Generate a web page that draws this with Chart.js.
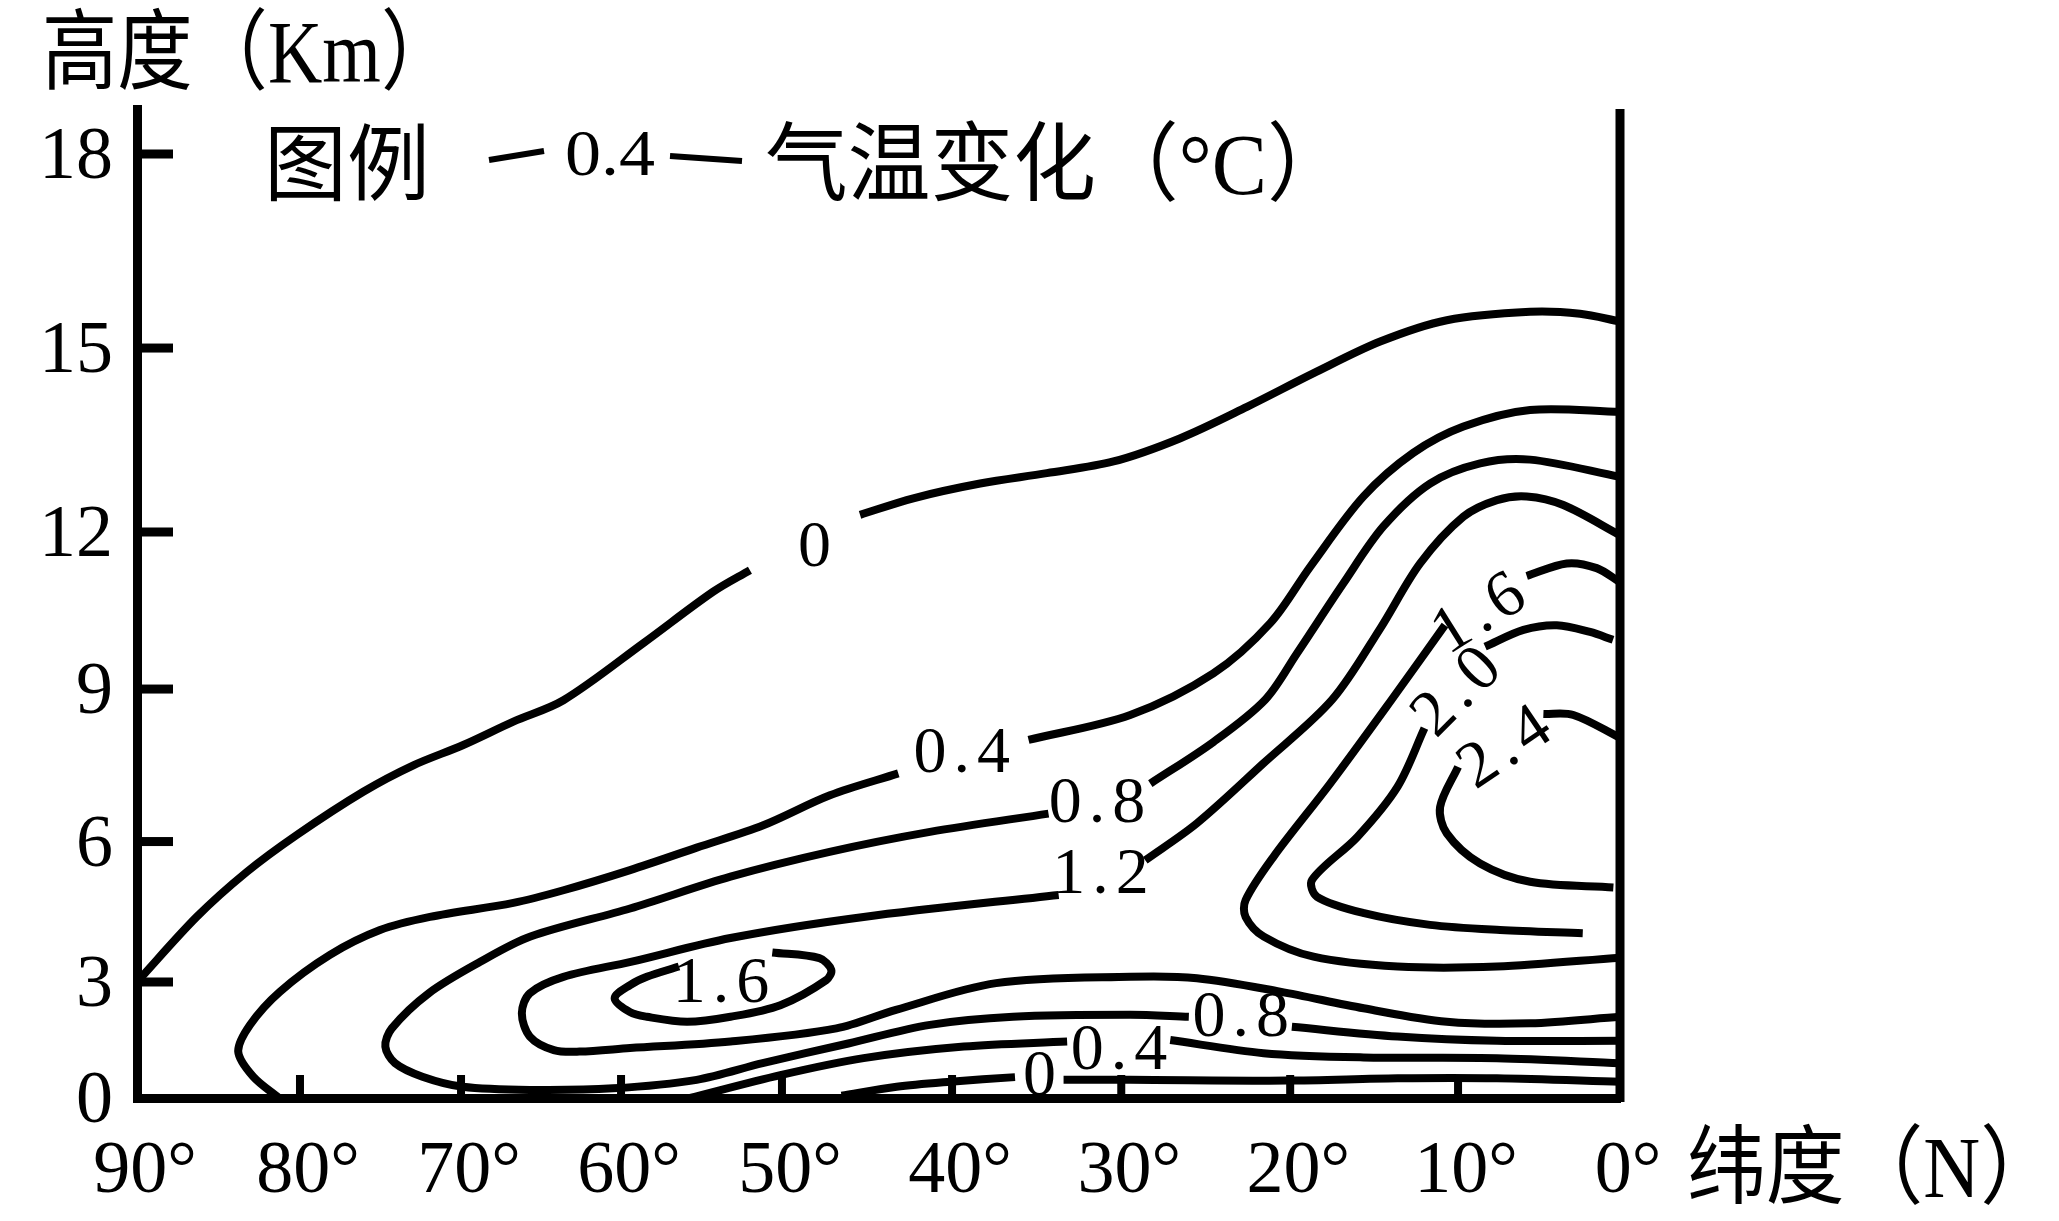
<!DOCTYPE html>
<html lang="zh"><head><meta charset="utf-8">
<style>html,body{margin:0;padding:0;background:#fff}canvas{display:block}</style>
<script src="https://cdn.jsdelivr.net/npm/chart.js@4/dist/chart.umd.min.js"></script>
</head><body><canvas id="c" width="2059" height="1221"></canvas>
<script>
// tick values and labels
const latTicks = [90,80,70,60,50,40,30,20,10,0];
const latTickLabels = ['90°','80°','70°','60°','50°','40°','30°','20°','10°','0°'];
const heightTicks = [0,3,6,9,12,15,18];

// the drawn axes are not evenly spaced: share of the axis length at each tick
const latShares = [0,.1099,.2185,.3264,.4349,.5496,.6637,.7776,.8908,1];
const heightKnots = [0,3,6,9,12,15,18,18.7];
const heightShares = [0,.1173,.2593,.4135,.5723,.7583,.9545,1];

// contour lines [latitude, height km]; one array per stretch between value labels
const t0Left = [[90,3],[86.34,4.39],[83.27,5.35],[80.2,6.13],[76.07,6.98],[72.96,7.5],[69.86,7.9],[66.73,8.36],[63.6,8.78],[58.6,9.88],[54.27,10.86],[51.99,11.27]];
const t0Right = [[45.41,12.28],[42.28,12.55],[38.34,12.79],[34.4,12.96],[30.46,13.15],[26.5,13.53],[22.56,14.04],[18.6,14.59],[14.64,15.1],[10.67,15.43],[5.55,15.56],[2.47,15.53],[0,15.41]];
const t04Left = [[81.29,0],[82.87,.55],[83.79,1.2],[83.07,1.89],[81.23,2.75],[78.14,3.58],[75.03,4.11],[71.93,4.39],[66.73,4.69],[63.6,4.96],[59.44,5.39],[55.3,5.87],[51.16,6.32],[47.18,6.91],[43.16,7.34]];
const t04Right = [[35.48,8],[29.47,8.49],[24.55,9.3],[21.18,10.26],[18.8,11.34],[15.63,12.58],[12.67,13.29],[9.67,13.72],[5.55,13.99],[0,13.96]];
const t08Loop = [[34.3,6.55],[41.3,6.19],[47.2,5.78],[53.2,5.25],[59.44,4.57],[65.66,3.97],[68.8,3.43],[72,2.71],[74.3,1.8],[74.7,1.33],[74.1,.9],[72.4,.55],[69.9,.29],[65.7,.21],[60.5,.25],[55.3,.47],[51.2,.9],[46.1,1.41],[41.3,1.89],[36.4,2.1],[29.47,2.15],[26,2.1]];
const t08Low = [[19.9,1.84],[13.6,1.59],[7.6,1.48],[0,1.48]];
const t08High = [[28.28,7.14],[24.54,7.96],[21.48,8.79],[19.6,9.68],[16.83,11.02],[14.45,12.09],[11.67,12.79],[8.64,13.12],[5.55,13.18],[0,12.9]];
const t12High = [[28.58,5.6],[25.52,6.36],[21.58,7.54],[17.5,8.79],[14.63,10.16],[12.26,11.4],[9.67,12.25],[7.6,12.52],[5.76,12.58],[3.5,12.44],[0,11.94]];
const t12Loop = [[33.7,4.86],[45.2,4.39],[53.2,3.94],[59.4,3.43],[63.6,3.11],[65.7,2.71],[66.2,2.19],[65.7,1.59],[64.2,1.24],[62.6,1.2],[59.44,1.29],[53.2,1.46],[46.8,1.8],[43.3,2.28],[37.4,2.97],[29.47,3.11],[25.52,3.08],[20.6,2.75],[15.63,2.32],[10.67,1.97],[5.55,1.93],[0,2.1]];
const t16Small = [[56.4,3.33],[58.4,3.11],[59.44,2.92],[60.4,2.58],[59.44,2.22],[58.4,2.1],[55.9,1.97],[53.2,2.1],[50.1,2.4],[47.4,3.04],[47.1,3.26],[47.8,3.51],[50.6,3.63]];
const t04Bottom = [[55.7,0],[50.1,.59],[45.2,1.03],[39.3,1.33],[33.2,1.46]];
const t04BottomRight = [[27.1,1.5],[21.58,1.16],[15.63,1.05],[7.6,1.03],[0,.9]];
const t0Bottom = [[46.5,.06],[43.26,.29],[40.1,.42],[36.28,.54]];
const t0BottomRight = [[33.41,.47],[29.47,.47],[20.2,.45],[13.6,.51],[7.6,.51],[0,.42]];
const t16Top = [[5.76,11.16],[3.29,11.4],[1.44,11.31],[0,11.04]];
const t16Loop = [[10.78,10.22],[13.96,8.79],[17.62,7.14],[20.98,5.68],[22.64,4.75],[22.64,4.39],[21.56,3.97],[18.61,3.54],[13.6,3.33],[7.6,3.33],[0,3.52]];
const t20Top = [[8.33,9.81],[5.96,10.13],[3.9,10.22],[1.85,10.09],[.43,9.94]];
const t20Loop = [[12,8.23],[13.6,7.08],[16,6.09],[18.7,5.18],[18.4,4.82],[15.6,4.47],[11.67,4.22],[7.4,4.11],[2.3,4.04]];
const t24Top = [[4.73,8.51],[2.88,8.49],[0,8.04]];
const t24Loop = [[10,7.47],[11.07,6.68],[10.67,6.16],[8.64,5.53],[5.55,5.14],[.41,5.02]];

const contourLines = [t0Left,t0Right,t04Left,t04Right,t08Loop,t08Low,t08High,t12High,t12Loop,t16Small,t04Bottom,t04BottomRight,t0Bottom,t0BottomRight,t16Top,t16Loop,t20Top,t20Loop,t24Top,t24Loop];

// contour value labels: text, latitude, height, rotation in degrees
const contourLabels = [
 ['0',48.06,11.78,0],['0.4',39.4,7.81,0],['0.8',31.4,6.83,0],['1.2',31.2,5.38,0],['1.6',53.75,3.04,0],
 ['1.6',8.8,10.5,-32],['2.0',10.2,9,-45],['2.4',7.2,7.91,-34],
 ['0.8',22.9,2.18,0],['0.4',30.1,1.33,0],['0',34.8,.65,0]];

const SERIF = "'Liberation Serif','Noto Sans CJK SC'";

class PiecewiseScale extends Chart.LinearScale {
  static id = 'piecewise';
  static defaults = Chart.LinearScale.defaults;
  buildTicks(){ return this.options.tickValues.map(v=>({value:v})); }
  _share(v){
    const k=this.options.knots, s=this.options.shares;
    const dir=k[k.length-1]>k[0]?1:-1;
    for(let i=0;i<k.length-1;i++){
      if(dir*v<=dir*k[i+1]) return s[i]+(v-k[i])/(k[i+1]-k[i])*(s[i+1]-s[i]);
    }
    return s[s.length-1];
  }
  getPixelForValue(v){
    const f=this._share(v);
    return this.isHorizontal()? this.left+f*this.width : this.bottom-f*this.height;
  }
}
Chart.register(PiecewiseScale);

const marks = {
  id:'marks',
  afterDatasetsDraw(chart){
    const {ctx,chartArea:a,scales:{x,y}}=chart;
    ctx.save();
    ctx.fillStyle='#000';
    // closing axis on the right
    ctx.fillRect(a.right-4.5,a.top,9,a.bottom-a.top+4);
    // inward tick marks
    heightTicks.slice(1).forEach(v=>ctx.fillRect(a.left,y.getPixelForValue(v)-4.5,36,9));
    latTicks.slice(1,-1).forEach(v=>ctx.fillRect(x.getPixelForValue(v)-4,a.bottom-23,8,23));
    // contour value labels
    ctx.textAlign='center';ctx.textBaseline='middle';
    ctx.font="66px "+SERIF;ctx.letterSpacing='7px';
    contourLabels.forEach(([t,lat,h,r])=>{
      ctx.save();ctx.translate(x.getPixelForValue(lat),y.getPixelForValue(h));
      ctx.rotate(r*Math.PI/180);ctx.fillText(t,3,5);ctx.restore();
    });
    ctx.letterSpacing='0px';
    // axis titles and legend text, stretched to the width they fill in the figure
    ctx.textAlign='left';ctx.textBaseline='alphabetic';
    const put=(t,px,py,w,size)=>{
      ctx.font=size+"px "+SERIF;
      const k=w/ctx.measureText(t).actualBoundingBoxRight;
      ctx.save();ctx.translate(px,py);ctx.scale(k,1);ctx.fillText(t,0,0);ctx.restore();
    };
    put('高度（Km）',42,82,362,88);
    put('纬度（N）',1687,1197,318,86);
    put('图例',264,194,160,84);
    put('0.4',565,175,89,66);
    put('气温变化（°C）',765,194,528,86);
    // legend line sample
    ctx.strokeStyle='#000';ctx.lineWidth=6;
    ctx.beginPath();ctx.moveTo(489,160);ctx.lineTo(544,151);ctx.moveTo(670,156);ctx.lineTo(742,161);ctx.stroke();
    ctx.restore();
  }
};

new Chart(document.getElementById('c'),{
  type:'scatter',
  data:{datasets:contourLines.map((pts,i)=>({
    label:'contour '+i,
    data:pts.map(([x,y])=>({x,y})),
    showLine:true,pointRadius:0,borderColor:'#000',borderWidth:8,tension:.32,fill:false,borderCapStyle:'butt'
  }))},
  options:{
    responsive:false,animation:false,devicePixelRatio:1,
    layout:{padding:{left:0,top:109,right:439,bottom:0}},
    plugins:{legend:{display:false},tooltip:{enabled:false},title:{display:false}},
    scales:{
      x:{type:'piecewise',position:'bottom',min:0,max:90,knots:latTicks,shares:latShares,tickValues:latTicks,
        afterFit(s){s.height=123;},
        grid:{display:false,drawTicks:false},border:{display:true,color:'#000',width:9},
        ticks:{autoSkip:false,maxRotation:0,padding:30,labelOffset:8,color:'#000',font:{family:SERIF,size:74},
          callback(v){return latTickLabels[latTicks.indexOf(v)];}}},
      y:{type:'piecewise',position:'left',min:0,max:18.7,knots:heightKnots,shares:heightShares,tickValues:heightTicks,
        afterFit(s){s.width=137;},
        grid:{display:false,drawTicks:false},border:{display:true,color:'#000',width:9},
        ticks:{autoSkip:false,padding:24,labelOffset:5,color:'#000',font:{family:SERIF,size:74},callback(v){return String(v);}}}
    }
  },
  plugins:[marks]
});
</script></body></html>
